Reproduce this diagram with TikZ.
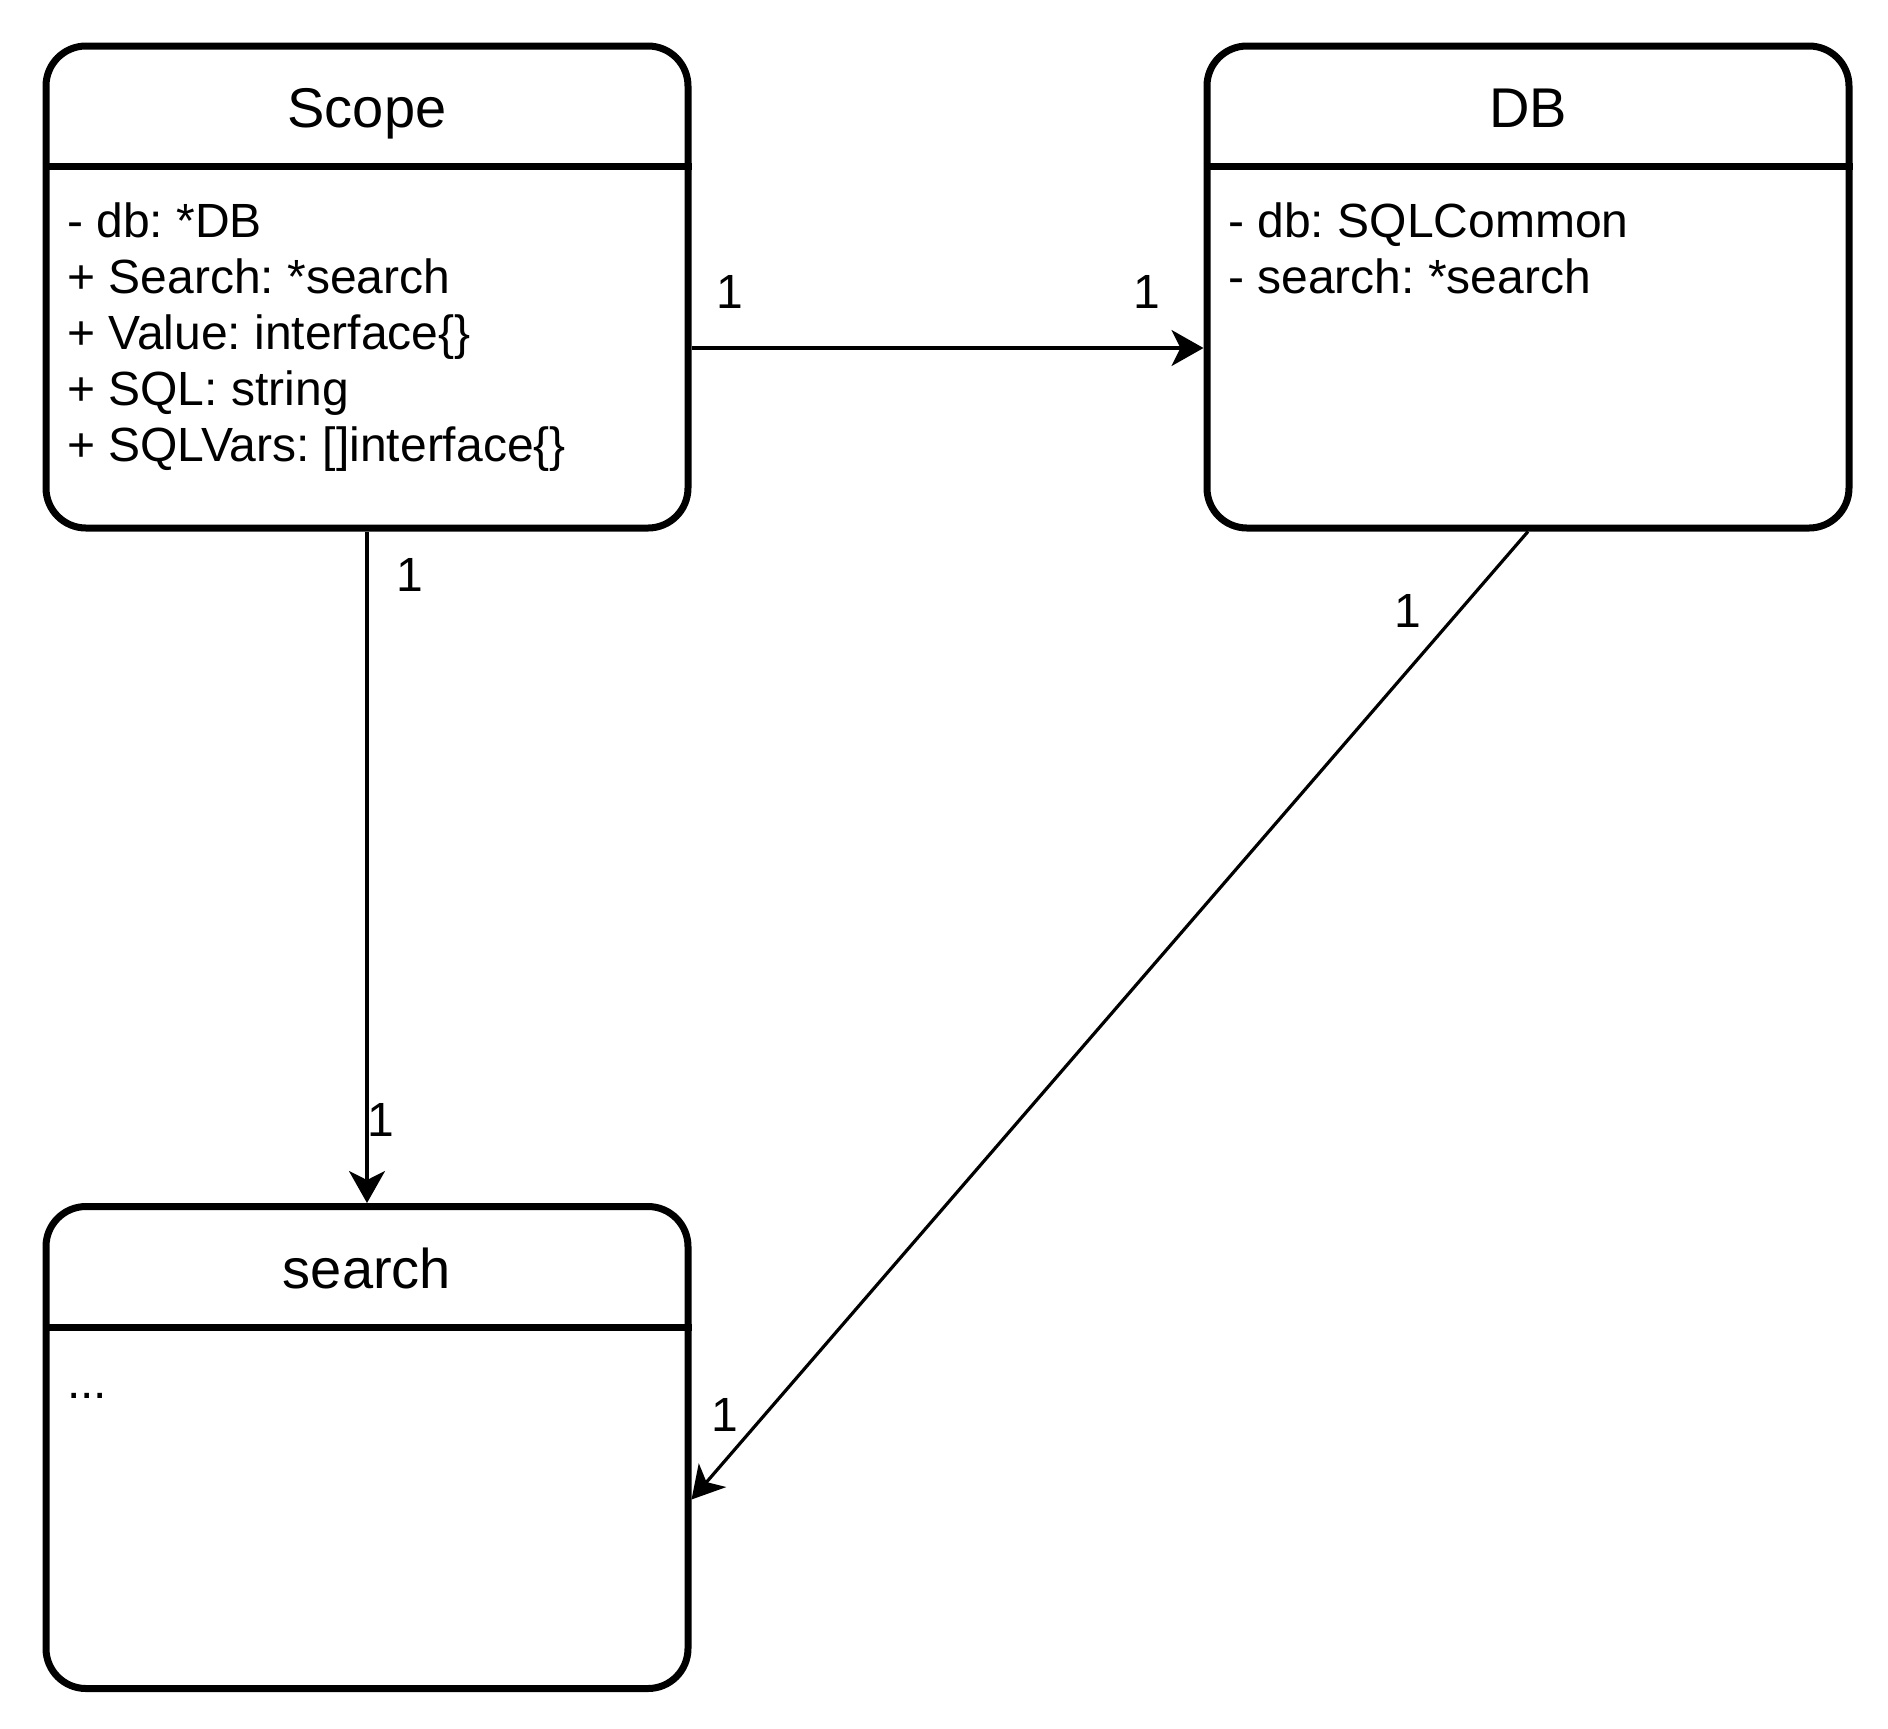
\documentclass[tikz,border=0pt]{standalone}
\usepackage{fontspec}
\setmainfont{Liberation Sans}
\usetikzlibrary{arrows.meta, calc}
\frenchspacing

\tikzset{
    classbox/.style={draw, line width=1.75pt, rounded corners=10pt, minimum width=160.5pt, minimum height=120.5pt, inner sep=0pt},
    classname/.style={anchor=base, inner sep=0pt, font=\fontsize{14}{16}\selectfont},
    attr/.style={anchor=base west, inner sep=0pt, font=\fontsize{12}{14}\selectfont},
    mult/.style={inner sep=0pt, font=\fontsize{12}{14}\selectfont},
    assoc/.style={line width=0.8pt, -{Stealth[length=8pt, width=9pt, inset=2.25pt]}}
}

\begin{document}
\begin{tikzpicture}[x=0.25pt, y=-0.25pt]
    \useasboundingbox (0,0) rectangle (1888,1728);

    % classes
    \node[classbox] (scope) at (367,287) {};
    \node[classbox] (db) at (1528,287) {};
    \node[classbox] (search) at (367,1447.5) {};

    \draw[line width=1.75pt] ($(scope.north west)+(0,124)$) -- ($(scope.north east)+(0,124)$);
    \draw[line width=1.75pt] ($(db.north west)+(0,124)$) -- ($(db.north east)+(0,124)$);
    \draw[line width=1.75pt] ($(search.north west)+(0,124)$) -- ($(search.north east)+(0,124)$);

    \node[classname] (scopename) at ($(scope.north)+(0,85)$) {Scope};
    \node[classname] (dbname) at ($(db.north)+(0,85)$) {DB};
    \node[classname] (searchname) at ($(search.north)+(0,85)$) {search};

    \foreach \txt [count=\i from 0] in {{- db: *DB}, {+ Search: *search}, {+ Value: interface\{\}}, {+ SQL: string}, {+ SQLVars: []interface\{\}}}
        \node[attr] (scopeattr\i) at ($(scope.north west)+(24,195+56*\i)$) {\txt};
    \foreach \txt [count=\i from 0] in {{- db: SQLCommon}, {- search: *search}}
        \node[attr] (dbattr\i) at ($(db.north west)+(24,195+56*\i)$) {\txt};
    \node[attr] (searchattr0) at ($(search.north west)+(24,195)$) {...};

    % associations
    \draw[assoc] ($(scope.east)+(0,61)$) -- ($(db.west)+(0,61)$);
    \draw[assoc] (scope.south) -- (search.north);
    \draw[assoc] (db.south) -- ($(search.east)+(0,52)$);

    \node[mult] (m1) at (730,292) {1};
    \node[mult] (m2) at (1147,292) {1};
    \node[mult] (m3) at (410,575) {1};
    \node[mult] (m4) at (381,1120) {1};
    \node[mult] (m5) at (1408,611) {1};
    \node[mult] (m6) at (725,1415) {1};
\end{tikzpicture}
\end{document}
